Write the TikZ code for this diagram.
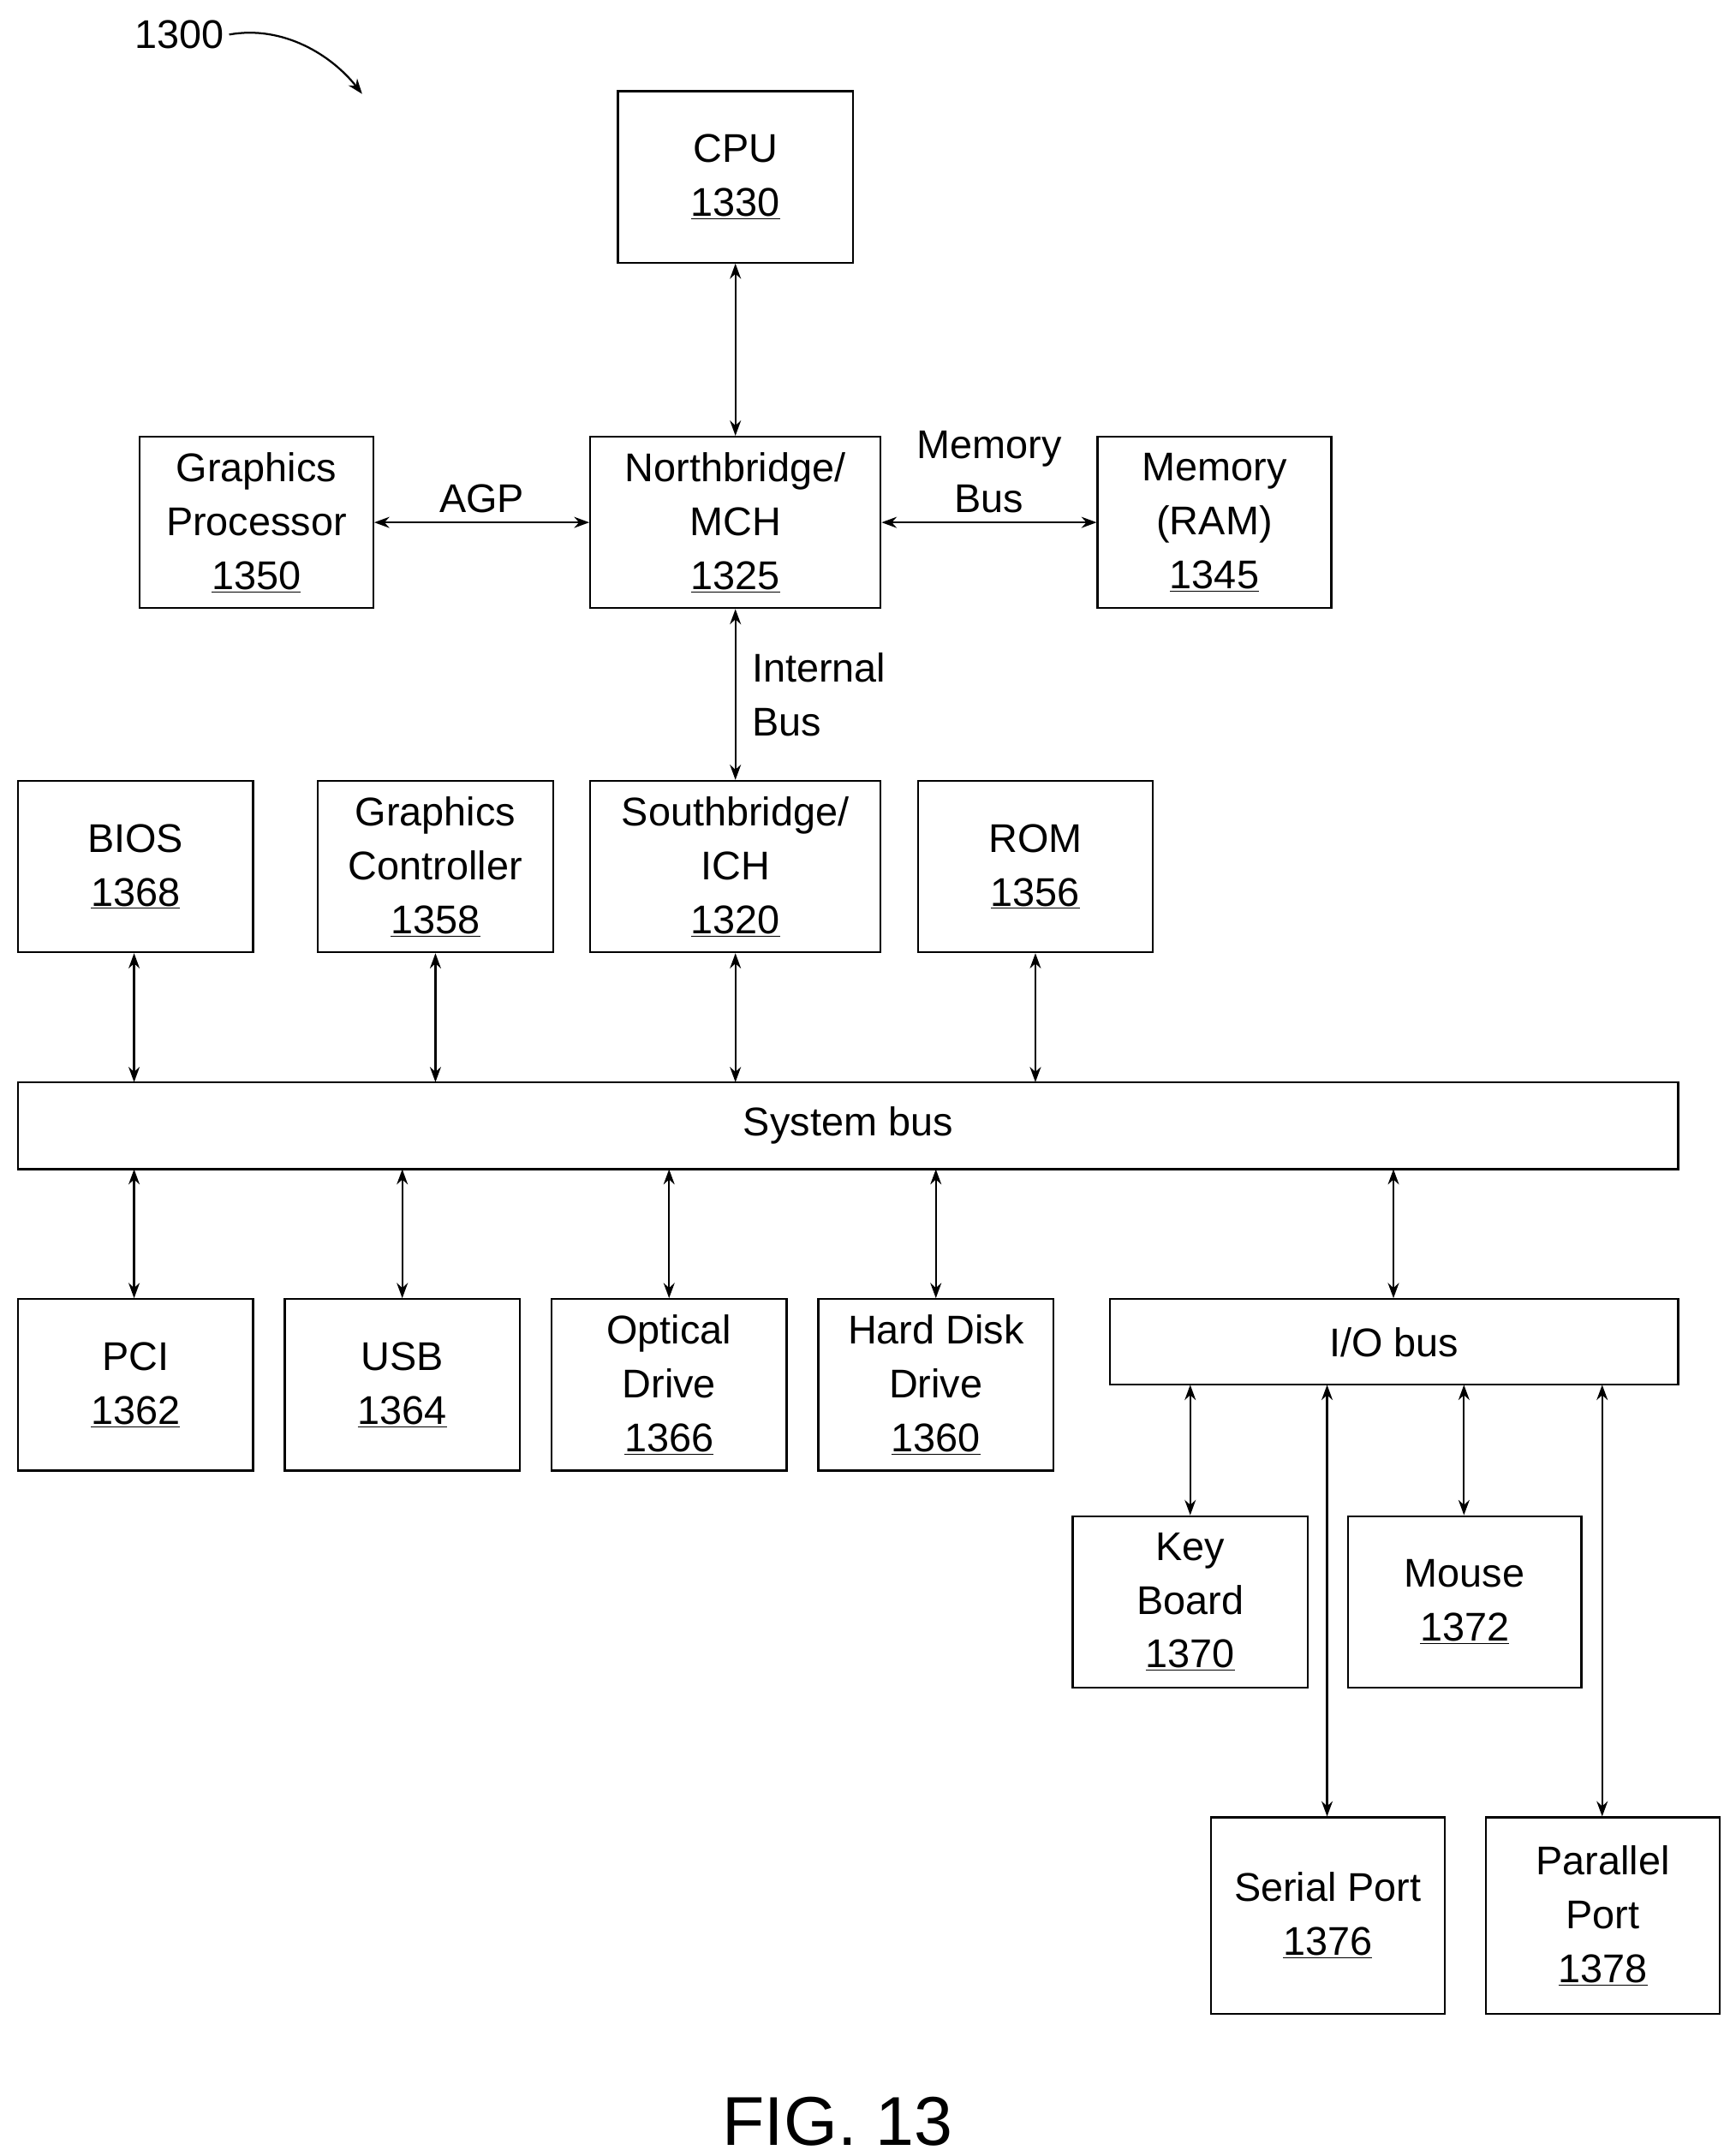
\documentclass[tikz,border=0pt]{standalone}
\usepackage{fontspec}
\setmainfont{Liberation Sans}
\usetikzlibrary{arrows.meta}
\begin{document}
\begin{tikzpicture}[x=1pt,y=-1pt,
  box/.style={draw,line width=1.4pt,align=center,inner sep=0pt,font=\fontsize{29}{39}\selectfont},
  arr/.style={line width=1.4pt,{Stealth[length=11pt,width=8pt]}-{Stealth[length=11pt,width=8pt]}},
  lbl/.style={align=left,font=\fontsize{29}{39}\selectfont}]
\useasboundingbox (0,0) rectangle (1251,1560);
\newcommand{\bx}[7]{\node[box,minimum width=#4-#2,minimum height=#5-#3] (#1) at ({(#2+#4)/2},{(#3+#5)/2}) {#6\\\underline{#7}};}
\bx{cpu}{447}{66}{617}{190}{CPU}{1330}
\bx{gp}{101}{316}{270}{440}{Graphics\\Processor}{1350}
\bx{nb}{427}{316}{637}{440}{Northbridge/\\MCH}{1325}
\bx{mem}{794}{316}{963}{440}{Memory\\(RAM)}{1345}
\bx{bios}{13}{565}{183}{689}{BIOS}{1368}
\bx{gc}{230}{565}{400}{689}{Graphics\\Controller}{1358}
\bx{sb}{427}{565}{637}{689}{Southbridge/\\ICH}{1320}
\bx{rom}{664}{565}{834}{689}{ROM}{1356}
\node[box,minimum width=1201,minimum height=63] (sys) at (613.5,814.5) {System bus};
\bx{pci}{13}{940}{183}{1064}{PCI}{1362}
\bx{usb}{206}{940}{376}{1064}{USB}{1364}
\bx{opt}{399}{940}{569}{1064}{Optical\\Drive}{1366}
\bx{hdd}{592}{940}{762}{1064}{Hard Disk\\Drive}{1360}
\node[box,minimum width=411,minimum height=62] (io) at (1008.5,971) {I/O bus};
\bx{kb}{776}{1097}{946}{1221}{Key\\Board}{1370}
\bx{mouse}{975}{1097}{1144}{1221}{Mouse}{1372}
\bx{ser}{876}{1315}{1045}{1457}{Serial Port}{1376}
\bx{par}{1075}{1315}{1244}{1457}{Parallel\\Port}{1378}
\draw[arr] (cpu) -- (nb);
\draw[arr] (gp) -- (nb) node[midway,above=3pt,lbl]{AGP};
\draw[arr] (nb) -- (mem) node[midway,above=3pt,lbl,align=center]{Memory\\Bus};
\draw[arr] (nb) -- (sb) node[midway,right=8pt,lbl]{Internal\\Bus};
\foreach \n/\x in {bios/97,gc/315,sb/532,rom/749}{
  \coordinate (t\n) at (\x,783);
  \draw[arr] (\n.south -| t\n) -- (t\n);}
\foreach \n/\x in {pci/97,usb/291,opt/484,hdd/677,io/1008}{
  \coordinate (b\n) at (\x,846);
  \draw[arr] (b\n) -- (\n.north -| b\n);}
\foreach \n/\x in {kb/861,ser/960,mouse/1059,par/1159}{
  \coordinate (i\n) at (\x,1002);
  \draw[arr] (i\n) -- (\n.north -| i\n);}
\node[font=\fontsize{29}{35}\selectfont] (ref) at (130,25) {1300};
\coordinate (refend) at (262,68);
\draw[line width=1.4pt,-{Stealth[length=11pt,width=8pt]}] (ref.east) .. controls (205,18) and (240,40) .. (refend);
\node[font=\fontsize{50}{60}\selectfont] (fig) at (606,1535) {FIG. 13};
\end{tikzpicture}
\end{document}
